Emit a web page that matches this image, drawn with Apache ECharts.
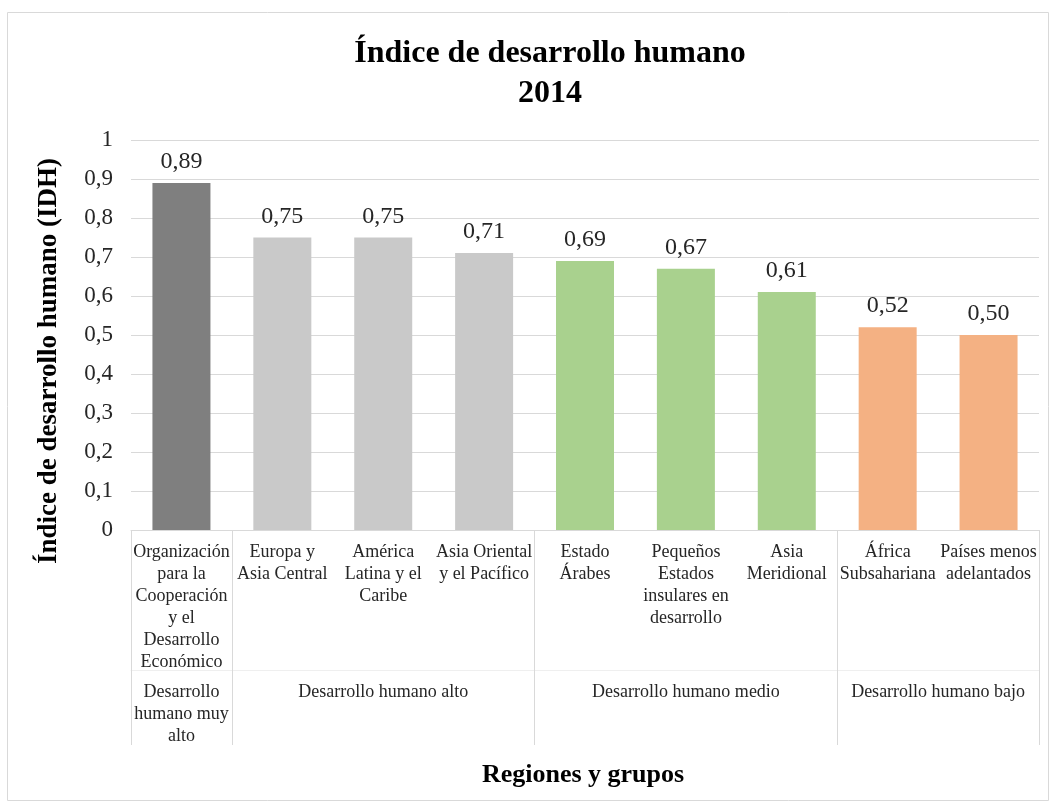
<!DOCTYPE html>
<html>
<head>
<meta charset="utf-8">
<script src="https://cdn.jsdelivr.net/npm/echarts@6/dist/echarts.min.js"></script>
<style>
  html, body { margin: 0; padding: 0; background: #fff; }
  #chart { width: 1057px; height: 807px; }
</style>
</head>
<body>
<div id="chart"></div>
<script>
// categorias (regiones) y valores del IDH 2014
const categories = [
  'Organización\npara la\nCooperación\ny el\nDesarrollo\nEconómico',
  'Europa y\nAsia Central',
  'América\nLatina y el\nCaribe',
  'Asia Oriental\ny el Pacífico',
  'Estado\nÁrabes',
  'Pequeños\nEstados\ninsulares en\ndesarrollo',
  'Asia\nMeridional',
  'África\nSubsahariana',
  'Países menos\nadelantados'
];
const idh = [0.89, 0.75, 0.75, 0.71, 0.69, 0.67, 0.61, 0.52, 0.50];
const groupOf = [0, 1, 1, 1, 2, 2, 2, 3, 3];
const groupNames = [
  'Desarrollo\nhumano muy\nalto',
  'Desarrollo humano alto',
  'Desarrollo humano medio',
  'Desarrollo humano bajo'
];
// limites y centros de los grupos (en unidades de categoria)
const groupBounds = [0, 1, 4, 7, 9];
const groupCenters = [0.5, 2.5, 5.5, 8];
const groupColors = ['#7f7f7f', '#c9c9c9', '#a9d18e', '#f4b183'];

const serif = '"Liberation Serif", "Times New Roman", serif';

const chart = echarts.init(document.getElementById('chart'));

const option = {
  animation: false,
  graphic: [{
    type: 'rect',
    shape: {x: 7.5, y: 12.5, width: 1041, height: 788},
    style: {fill: 'none', stroke: '#d9d9d9', lineWidth: 1}
  }],
  title: [
    {
      text: 'Índice de desarrollo humano\n2014',
      left: 545,
      textAlign: 'center',
      top: 29,
      textStyle: {fontFamily: serif, fontWeight: 'bold', fontSize: 32, color: '#000', lineHeight: 40}
    },
    {
      text: 'Regiones y grupos',
      left: 578,
      textAlign: 'center',
      top: 757,
      textStyle: {fontFamily: serif, fontWeight: 'bold', fontSize: 26, color: '#000'}
    }
  ],
  grid: {left: 131, right: 18, top: 140, bottom: 277, containLabel: false},
  xAxis: [
    {
      type: 'category',
      data: categories,
      axisTick: {show: false},
      axisLine: {lineStyle: {color: '#d9d9d9'}},
      axisLabel: {
        interval: 0,
        margin: 11,
        fontFamily: serif,
        fontSize: 18,
        lineHeight: 22,
        color: '#262626'
      }
    },
    {
      type: 'value',
      position: 'bottom',
      min: 0,
      max: 9,
      axisLine: {show: false},
      splitLine: {show: false},
      axisTick: {
        show: true,
        customValues: groupBounds,
        length: 215,
        lineStyle: {color: '#d9d9d9'}
      },
      axisLabel: {
        customValues: groupCenters,
        margin: 151,
        fontFamily: serif,
        fontSize: 18,
        lineHeight: 22,
        color: '#262626',
        formatter: v => groupNames[groupCenters.indexOf(v)]
      }
    },
    {
      type: 'value',
      position: 'bottom',
      offset: 140,
      min: 0,
      max: 9,
      axisLine: {show: true, lineStyle: {color: '#efefef'}},
      axisTick: {show: false},
      axisLabel: {show: false},
      splitLine: {show: false}
    }
  ],
  yAxis: {
    type: 'value',
    min: 0,
    max: 1,
    interval: 0.1,
    name: 'Índice de desarrollo humano (IDH)',
    nameLocation: 'middle',
    nameGap: 68,
    nameTextStyle: {fontFamily: serif, fontWeight: 'bold', fontSize: 27, color: '#000', padding: [0, 52, 0, 0]},
    axisLine: {show: false},
    axisTick: {show: false},
    splitLine: {lineStyle: {color: '#d9d9d9'}},
    axisLabel: {
      margin: 18,
      fontFamily: serif,
      fontSize: 23,
      color: '#262626',
      formatter: v => String(Math.round(v * 10) / 10).replace('.', ',')
    }
  },
  series: [{
    type: 'bar',
    xAxisIndex: 0,
    barWidth: 58,
    data: idh.map((v, i) => ({value: v, itemStyle: {color: groupColors[groupOf[i]]}})),
    label: {
      show: true,
      position: 'top',
      distance: 9,
      fontFamily: serif,
      fontSize: 24,
      color: '#262626',
      formatter: p => p.value.toFixed(2).replace('.', ',')
    }
  }]
};

chart.setOption(option);
</script>
</body>
</html>
